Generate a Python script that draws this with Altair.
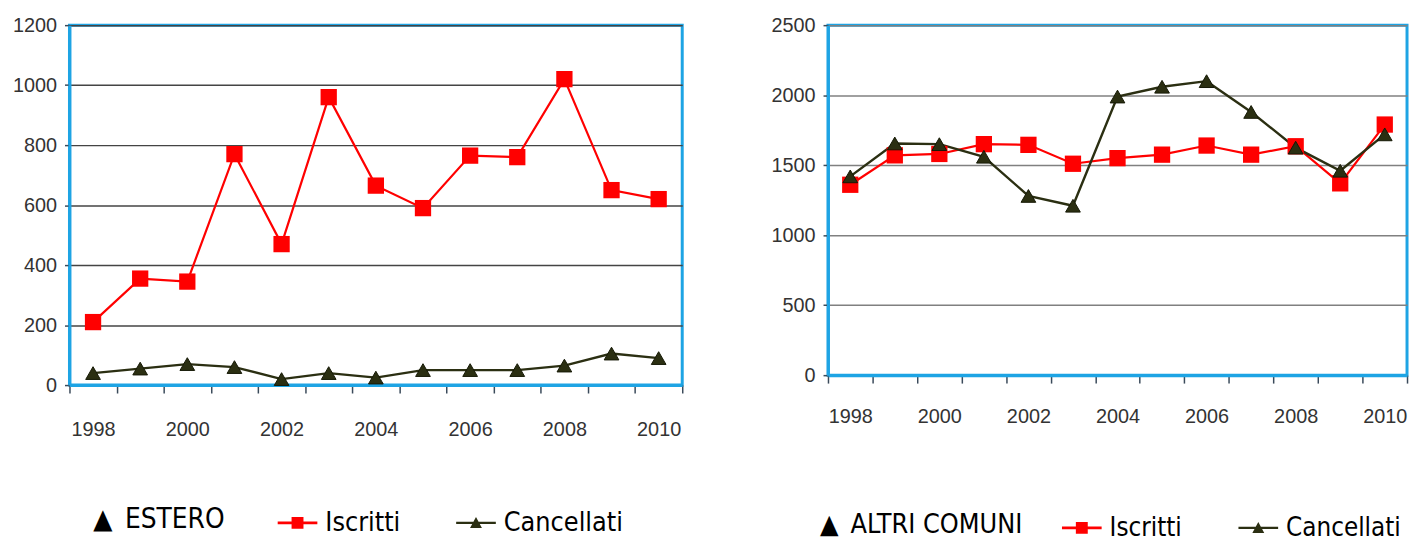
import altair as alt
import pandas as pd

years = [str(y) for y in range(1998, 2011)]
series_names = ["Iscritti", "Cancellati"]
series_colors = ["#ff0000", "#2b2f12"]

estero_iscritti = [210, 355, 345, 770, 470, 960, 665, 590, 765, 760, 1020, 650, 620]
estero_cancellati = [40, 55, 70, 60, 20, 40, 25, 50, 50, 50, 65, 105, 90]

altri_iscritti = [1360, 1570, 1580, 1650, 1645, 1510, 1550, 1575, 1640, 1575, 1635, 1370, 1790]
altri_cancellati = [1420, 1655, 1650, 1560, 1280, 1210, 1990, 2060, 2100, 1880, 1625, 1460, 1720]

BLUE = "#1ea4e4"
AXIS_FONT = "Liberation Sans"
LEGEND_FONT = "DejaVu Sans Condensed, Roboto, sans-serif"

SQ_PATH = "M-1,-0.07H1V0.07H-1Z M-0.3,-0.3H0.3V0.3H-0.3Z"
TRI_PATH = "M-1,-0.06H1V0.06H-1Z M-0.3,0.26L0,-0.3L0.3,0.26Z"


def panel(title, isc, canc, ymax, ystep, width, height, label_pad,
          legend_x, legend_y, grid_color, title_pad, col_pad, fsize):
    df = pd.DataFrame({
        "year": years * 2,
        "value": isc + canc,
        "series": ["Iscritti"] * len(years) + ["Cancellati"] * len(years),
    })
    x = alt.X(
        "year:O",
        sort=years,
        scale=alt.Scale(type="band", paddingInner=0, paddingOuter=0),
        axis=alt.Axis(
            title=None, labelAngle=0, tickBand="extent", ticks=True,
            tickSize=8, tickColor="#3a4a5a", tickWidth=1.5,
            domainColor=BLUE, domainWidth=3, labelPadding=label_pad,
            labelExpr="toNumber(datum.value) % 2 == 0 ? datum.label : ''",
            grid=False, labelFont=AXIS_FONT, labelFontSize=20,
            labelColor="#333333",
        ),
    )
    y = alt.Y(
        "value:Q",
        scale=alt.Scale(domain=[0, ymax], nice=False, zero=True),
        axis=alt.Axis(
            title=None, values=list(range(0, ymax + 1, ystep)), grid=True,
            gridColor=grid_color, gridWidth=1.5, ticks=True, tickSize=5,
            tickColor="#3a4a5a", tickWidth=1.5, format="d",
            domainColor=BLUE, domainWidth=3, labelPadding=8,
            labelFont=AXIS_FONT, labelFontSize=20, labelColor="#333333",
        ),
    )
    base = alt.Chart(df).encode(x=x, y=y)
    isc_base = base.transform_filter(alt.datum.series == "Iscritti")
    canc_base = base.transform_filter(alt.datum.series == "Cancellati")

    isc_line = isc_base.mark_line(strokeWidth=2.2, color=series_colors[0])
    canc_line = canc_base.mark_line(strokeWidth=2.4, color=series_colors[1])
    squares = isc_base.mark_square(size=270, opacity=1, color=series_colors[0])
    triangles = canc_base.mark_point(
        shape="triangle-up", filled=True, size=220, opacity=1,
        color=series_colors[1], stroke="#151805", strokeWidth=1,
    )

    leg = alt.Legend(
        orient="none", legendX=legend_x, legendY=legend_y,
        direction="horizontal", title=title, titleOrient="left",
        titleFont=LEGEND_FONT, titleFontSize=fsize + 1, titleFontWeight="normal",
        titleColor="#000000", titlePadding=title_pad,
        labelFont=LEGEND_FONT, labelFontSize=fsize, labelColor="#000000",
        labelOffset=8, columnPadding=col_pad, symbolSize=1600,
        symbolOpacity=1, symbolStrokeWidth=0, labelLimit=400, titleLimit=400,
    )
    color_scale = alt.Scale(domain=series_names, range=series_colors)
    legend_layer = base.mark_point(filled=True, opacity=0).encode(
        color=alt.Color("series:N", scale=color_scale, legend=leg),
        shape=alt.Shape(
            "series:N",
            scale=alt.Scale(domain=series_names, range=[SQ_PATH, TRI_PATH]),
            legend=leg,
        ),
    )
    return alt.layer(
        isc_line, canc_line, squares, triangles, legend_layer
    ).properties(width=width, height=height)


left = panel("▲\u2002ESTERO", estero_iscritti, estero_cancellati, 1200, 200,
             618, 363, 27, 24, 482, "#444444", 53, 56, 27)
right = panel("▲\u2002ALTRI COMUNI", altri_iscritti, altri_cancellati, 2500, 500,
              584, 353, 24, -8, 487, "#808080", 40, 57, 26)

chart = alt.hconcat(left, right, spacing=85).resolve_scale(
    color="independent", shape="independent"
).resolve_legend(
    color="independent", shape="independent"
).properties(
    padding={"left": 3, "top": 3, "right": 0, "bottom": 0},
    background="white",
).configure_view(
    stroke=BLUE, strokeWidth=3
)

chart.save("out.html", embed_options={"renderer": "svg", "actions": False})
